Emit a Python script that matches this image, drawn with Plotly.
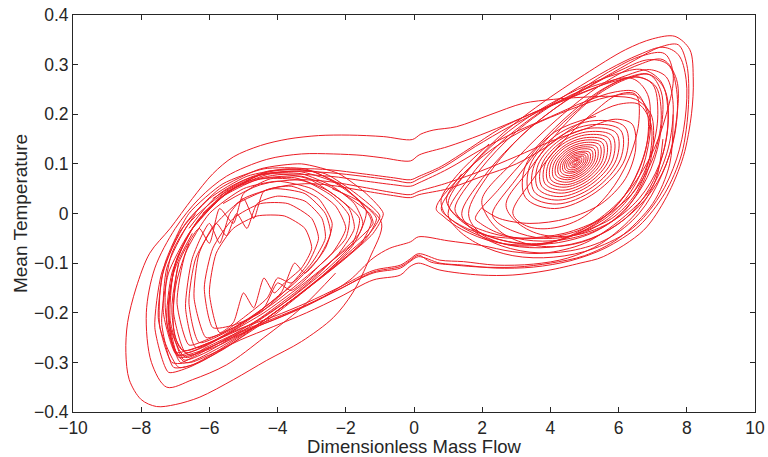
import plotly.graph_objects as go

# ---- data (Dimensionless Mass Flow, Mean Temperature) ----
# spiral leaving the right-hand focus (turns listed point by point)
spiral_x = [
    4.771, 4.771, 4.747, 4.713, 4.689, 4.689, 4.713, 4.747,
    4.812, 4.812, 4.764, 4.696, 4.648, 4.648, 4.696, 4.764,
    4.861, 4.861, 4.784, 4.676, 4.599, 4.599, 4.676, 4.784,
    4.910, 4.910, 4.805, 4.655, 4.550, 4.550, 4.655, 4.805,
    4.968, 4.968, 4.829, 4.631, 4.492, 4.492, 4.631, 4.829,
    5.025, 5.025, 4.852, 4.608, 4.435, 4.435, 4.608, 4.852,
    5.083, 5.083, 4.876, 4.584, 4.377, 4.377, 4.584, 4.876,
    5.148, 5.148, 4.903, 4.557, 4.312, 4.312, 4.557, 4.903,
    5.214, 5.214, 4.931, 4.529, 4.246, 4.246, 4.529, 4.931,
    5.288, 5.288, 4.961, 4.499, 4.172, 4.172, 4.499, 4.961,
    5.361, 5.361, 4.992, 4.468, 4.099, 4.099, 4.468, 4.992,
    5.443, 5.443, 5.026, 4.434, 4.017, 4.017, 4.434, 5.026,
    5.525, 5.525, 5.060, 4.400, 3.935, 3.935, 4.400, 5.060,
    5.616, 5.616, 5.097, 4.363, 3.844, 3.844, 4.363, 5.097,
    5.714, 5.714, 5.138, 4.322, 3.746, 3.746, 4.322, 5.138,
    5.821, 5.821, 5.182, 4.278, 3.639, 3.639, 4.278, 5.182,
    5.935, 5.935, 5.230, 4.230, 3.525, 3.525, 4.230, 5.230,
    6.058, 6.058, 5.281, 4.179, 3.402, 3.402, 4.179, 5.281,
    6.190, 6.190, 5.335, 4.125, 3.270, 3.270, 4.125, 5.335,
]
spiral_y = [
    0.105, 0.103, 0.101, 0.100, 0.101, 0.103, 0.105, 0.106,
    0.107, 0.103, 0.100, 0.098, 0.099, 0.103, 0.106, 0.108,
    0.109, 0.104, 0.098, 0.095, 0.097, 0.102, 0.108, 0.111,
    0.112, 0.104, 0.096, 0.092, 0.094, 0.102, 0.111, 0.114,
    0.115, 0.104, 0.093, 0.088, 0.091, 0.102, 0.113, 0.118,
    0.117, 0.104, 0.091, 0.084, 0.089, 0.102, 0.115, 0.122,
    0.120, 0.105, 0.088, 0.081, 0.086, 0.101, 0.118, 0.125,
    0.123, 0.105, 0.086, 0.076, 0.083, 0.101, 0.120, 0.130,
    0.127, 0.105, 0.083, 0.072, 0.079, 0.101, 0.123, 0.134,
    0.130, 0.106, 0.080, 0.068, 0.076, 0.100, 0.126, 0.138,
    0.134, 0.106, 0.077, 0.063, 0.072, 0.100, 0.129, 0.143,
    0.138, 0.107, 0.073, 0.058, 0.068, 0.100, 0.133, 0.148,
    0.142, 0.107, 0.070, 0.053, 0.064, 0.099, 0.136, 0.153,
    0.146, 0.107, 0.066, 0.047, 0.060, 0.099, 0.140, 0.159,
    0.151, 0.108, 0.062, 0.041, 0.055, 0.098, 0.144, 0.165,
    0.156, 0.108, 0.058, 0.034, 0.050, 0.098, 0.148, 0.172,
    0.162, 0.109, 0.053, 0.027, 0.044, 0.097, 0.153, 0.179,
    0.168, 0.110, 0.048, 0.019, 0.038, 0.097, 0.158, 0.187,
    0.174, 0.110, 0.043, 0.010, 0.032, 0.096, 0.164, 0.196,
]

# loops around the right-hand focus, [x, y] pairs
right_loops = [
    [[1.0,0.0],[1.6,0.07],[2.5,0.14],[3.5,0.195],[4.6,0.245],[5.7,0.29],[6.6,0.32],[7.3,0.335],[7.75,0.32],[7.98,0.27],[7.95,0.19],[7.7,0.11],[7.2,0.035],[6.4,-0.03],[5.3,-0.07],[4.1,-0.088],[2.9,-0.085],[1.9,-0.062],[1.25,-0.03],[1.0,0.0]],
    [[1.4,0.0],[2.0,0.07],[2.9,0.14],[3.9,0.2],[5.0,0.25],[6.1,0.29],[6.9,0.31],[7.45,0.3],[7.7,0.25],[7.65,0.16],[7.25,0.075],[6.6,0.0],[5.7,-0.05],[4.6,-0.075],[3.4,-0.078],[2.3,-0.058],[1.6,-0.025],[1.4,0.0]],
    [[0.8,0.01],[1.5,0.08],[2.5,0.15],[3.6,0.205],[4.8,0.25],[5.9,0.28],[6.7,0.29],[7.25,0.265],[7.45,0.2],[7.3,0.12],[6.9,0.05],[6.2,-0.01],[5.2,-0.05],[4.0,-0.068],[2.8,-0.064],[1.7,-0.038],[1.05,-0.01],[0.8,0.01]],
    [[1.8,-0.01],[2.5,0.05],[3.4,0.12],[4.4,0.19],[5.4,0.245],[6.3,0.275],[6.9,0.28],[7.25,0.245],[7.25,0.17],[6.95,0.09],[6.4,0.025],[5.6,-0.025],[4.6,-0.05],[3.5,-0.055],[2.5,-0.04],[1.95,-0.02],[1.8,-0.01]],
    [[2.3,0.0],[3.0,0.07],[3.9,0.15],[4.9,0.215],[5.8,0.26],[6.5,0.275],[7.0,0.26],[7.15,0.2],[6.95,0.12],[6.5,0.05],[5.8,-0.005],[4.9,-0.04],[3.8,-0.05],[2.9,-0.035],[2.4,-0.015],[2.3,0.0]],
    [[1.2,0.01],[1.9,0.085],[3.0,0.165],[4.3,0.228],[5.5,0.262],[6.4,0.272],[6.85,0.24],[6.9,0.17],[6.6,0.09],[6.0,0.02],[5.1,-0.03],[4.0,-0.058],[2.9,-0.058],[1.9,-0.038],[1.35,-0.01],[1.2,0.01]],
    [[2.7,0.02],[3.4,0.09],[4.3,0.17],[5.3,0.235],[6.2,0.27],[6.9,0.28],[7.35,0.25],[7.45,0.18],[7.2,0.1],[6.6,0.03],[5.7,-0.02],[4.6,-0.045],[3.6,-0.04],[2.9,-0.01],[2.7,0.02]],
    [[0.65,0.01],[1.3,0.07],[2.3,0.13],[3.4,0.175],[4.6,0.21],[5.7,0.235],[6.5,0.238],[6.9,0.2],[6.85,0.13],[6.5,0.06],[5.8,0.0],[4.8,-0.04],[3.6,-0.062],[2.4,-0.058],[1.4,-0.032],[0.85,-0.005],[0.65,0.01]],
    [[2.0,0.03],[3.0,0.11],[4.2,0.19],[5.5,0.26],[6.6,0.3],[7.3,0.31],[7.7,0.27],[7.7,0.19],[7.4,0.1],[6.8,0.03],[5.9,-0.025],[4.8,-0.06],[3.6,-0.065],[2.6,-0.04],[2.1,0.0],[2.0,0.03]],
    [[2.9,0.0],[3.5,0.07],[4.3,0.14],[5.2,0.2],[6.0,0.24],[6.5,0.24],[6.6,0.19],[6.3,0.11],[5.7,0.04],[4.9,-0.01],[4.0,-0.03],[3.3,-0.025],[2.9,0.0]],
    [[1.6,0.0],[2.2,0.08],[3.2,0.16],[4.4,0.225],[5.7,0.285],[6.7,0.318],[7.35,0.322],[7.6,0.28],[7.4,0.2],[6.9,0.11],[6.1,0.03],[5.0,-0.03],[3.8,-0.062],[2.7,-0.062],[1.9,-0.037],[1.6,0.0]],
]

# loops around the left-hand focus, [x, y] pairs
left_loops = [
    [[-6.96,-0.285],[-7.35,-0.2],[-7.25,-0.11],[-6.6,-0.02],[-5.6,0.04],[-4.5,0.07],[-3.3,0.075],[-2.2,0.045],[-1.3,0.0],[-1.2,-0.02],[-1.6,-0.05],[-2.4,-0.095],[-3.4,-0.15],[-4.4,-0.2],[-5.4,-0.24],[-6.4,-0.275],[-6.96,-0.285]],
    [[-6.9,-0.31],[-7.45,-0.23],[-7.4,-0.13],[-6.9,-0.04],[-6.0,0.03],[-4.9,0.075],[-3.7,0.09],[-2.6,0.08],[-1.7,0.04],[-1.0,-0.005],[-1.3,-0.04],[-2.1,-0.09],[-3.1,-0.15],[-4.2,-0.21],[-5.3,-0.26],[-6.3,-0.3],[-6.9,-0.31]],
    [[-7.0,-0.28],[-7.2,-0.19],[-6.95,-0.09],[-6.3,-0.01],[-5.3,0.05],[-4.2,0.08],[-3.1,0.07],[-2.2,0.03],[-1.6,-0.01],[-1.8,-0.06],[-2.6,-0.115],[-3.6,-0.17],[-4.7,-0.22],[-5.8,-0.255],[-6.6,-0.275],[-7.0,-0.28]],
    [[-6.6,-0.265],[-6.95,-0.18],[-6.7,-0.08],[-6.0,0.0],[-5.0,0.05],[-4.0,0.065],[-3.0,0.05],[-2.3,0.015],[-2.0,-0.03],[-2.4,-0.08],[-3.2,-0.13],[-4.2,-0.185],[-5.3,-0.23],[-6.1,-0.255],[-6.6,-0.265]],
    [[-7.1,-0.3],[-7.5,-0.21],[-7.3,-0.1],[-6.6,0.0],[-5.6,0.06],[-4.4,0.09],[-3.2,0.09],[-2.2,0.06],[-1.5,0.02],[-1.1,-0.01],[-1.4,-0.05],[-2.2,-0.1],[-3.3,-0.16],[-4.5,-0.22],[-5.7,-0.27],[-6.6,-0.3],[-7.1,-0.3]],
    [[-6.1,-0.25],[-6.45,-0.17],[-6.3,-0.08],[-5.8,-0.02],[-5.5,-0.045],[-5.2,0.0],[-4.9,-0.03],[-4.6,0.02],[-4.0,0.035],[-3.2,0.025],[-2.7,-0.01],[-2.6,-0.05],[-3.0,-0.1],[-3.6,-0.14],[-4.0,-0.13],[-4.3,-0.17],[-5.0,-0.21],[-5.6,-0.24],[-6.1,-0.25]],
    [[-6.4,-0.27],[-6.7,-0.19],[-6.5,-0.09],[-6.0,-0.02],[-5.7,-0.06],[-5.4,0.0],[-5.0,0.03],[-4.7,-0.01],[-4.4,0.045],[-3.6,0.055],[-2.8,0.03],[-2.4,-0.02],[-2.6,-0.07],[-3.2,-0.12],[-3.5,-0.1],[-3.9,-0.16],[-4.8,-0.21],[-5.7,-0.25],[-6.4,-0.27]],
    [[-5.9,-0.23],[-6.15,-0.15],[-5.9,-0.07],[-5.3,-0.01],[-4.5,0.02],[-3.7,0.02],[-3.0,-0.01],[-2.8,-0.05],[-3.1,-0.1],[-3.7,-0.15],[-4.5,-0.2],[-5.3,-0.225],[-5.9,-0.23]],
    [[-6.7,-0.28],[-7.05,-0.2],[-6.9,-0.1],[-6.3,-0.03],[-6.0,-0.06],[-5.7,0.01],[-5.3,-0.02],[-5.0,0.04],[-4.2,0.07],[-3.2,0.065],[-2.4,0.035],[-1.9,-0.005],[-2.0,-0.05],[-2.7,-0.1],[-3.6,-0.155],[-4.0,-0.14],[-4.4,-0.19],[-5.4,-0.24],[-6.2,-0.27],[-6.7,-0.28]],
    [[-6.85,-0.3],[-7.25,-0.22],[-7.1,-0.12],[-6.5,-0.03],[-5.5,0.04],[-4.3,0.085],[-3.0,0.085],[-2.0,0.05],[-1.4,0.005],[-1.6,-0.04],[-2.4,-0.095],[-3.5,-0.16],[-4.6,-0.215],[-5.7,-0.26],[-6.5,-0.29],[-6.85,-0.3]],
    [[-5.7,-0.24],[-6.0,-0.16],[-5.8,-0.08],[-5.3,-0.03],[-4.6,-0.005],[-3.8,-0.005],[-3.2,-0.03],[-3.0,-0.07],[-3.3,-0.11],[-3.8,-0.14],[-4.1,-0.16],[-4.4,-0.13],[-4.7,-0.19],[-5.0,-0.16],[-5.3,-0.22],[-5.7,-0.24]],
    [[-6.9,-0.29],[-7.2,-0.2],[-7.0,-0.1],[-6.4,-0.02],[-5.5,0.045],[-4.4,0.08],[-3.3,0.08],[-2.4,0.055],[-1.75,0.02],[-1.5,-0.02],[-1.8,-0.065],[-2.6,-0.12],[-3.6,-0.175],[-4.6,-0.225],[-5.7,-0.265],[-6.5,-0.285],[-6.9,-0.29]],
    [[-7.2,-0.32],[-7.6,-0.23],[-7.4,-0.12],[-6.7,-0.02],[-5.7,0.05],[-4.5,0.09],[-3.3,0.1],[-2.2,0.08],[-1.4,0.04],[-0.9,0.0],[-1.2,-0.04],[-2.0,-0.09],[-3.1,-0.15],[-4.3,-0.21],[-5.5,-0.27],[-6.6,-0.31],[-7.2,-0.32]],
    [[-6.75,-0.295],[-7.15,-0.215],[-7.05,-0.115],[-6.55,-0.035],[-5.7,0.03],[-4.6,0.068],[-3.5,0.072],[-2.5,0.045],[-1.9,0.01],[-1.75,-0.03],[-2.2,-0.08],[-3.0,-0.135],[-4.0,-0.19],[-5.1,-0.24],[-6.1,-0.28],[-6.75,-0.295]],
    [[-6.3,-0.26],[-6.6,-0.18],[-6.4,-0.09],[-5.8,-0.02],[-5.0,0.03],[-4.1,0.05],[-3.2,0.04],[-2.6,0.0],[-2.45,-0.04],[-2.8,-0.09],[-3.5,-0.14],[-4.4,-0.19],[-5.4,-0.235],[-6.3,-0.26]],
    [[-7.05,-0.31],[-7.4,-0.22],[-7.2,-0.12],[-6.6,-0.04],[-5.6,0.035],[-4.5,0.078],[-3.4,0.085],[-2.4,0.065],[-1.6,0.025],[-1.25,-0.015],[-1.55,-0.06],[-2.4,-0.11],[-3.4,-0.165],[-4.5,-0.22],[-5.6,-0.27],[-6.5,-0.305],[-7.05,-0.31]],
]

# passages between the two lobes, [x, y] pairs
transits = [
    [[-2.4,0.05],[-1.5,0.02],[-0.95,-0.02],[-1.3,-0.09],[-1.8,-0.16],[-2.37,-0.21],[-3.3,-0.258],[-4.32,-0.296],[-5.3,-0.335],[-6.28,-0.37],[-7.0,-0.385],[-7.55,-0.389],[-8.0,-0.375],[-8.35,-0.335],[-8.45,-0.28],[-8.4,-0.22],[-8.15,-0.15],[-7.75,-0.08],[-7.15,-0.03],[-6.5,0.03],[-5.9,0.08],[-5.3,0.114],[-4.5,0.137],[-3.7,0.15],[-2.8,0.157],[-1.9,0.158],[-0.9,0.155],[-0.05,0.149],[0.2,0.16],[0.56,0.168],[1.25,0.175],[2.23,0.199],[3.2,0.222],[4.09,0.23],[4.87,0.234],[5.84,0.236],[6.5,0.23],[6.95,0.2],[7.0,0.13],[6.7,0.06],[6.1,0.0],[5.2,-0.04],[4.1,-0.06],[3.0,-0.06],[2.0,-0.04],[1.3,-0.01],[1.0,0.02],[1.5,0.08],[2.5,0.155],[3.7,0.22],[5.0,0.28],[6.2,0.33],[7.0,0.352],[7.65,0.357],[8.09,0.33],[8.19,0.269],[8.14,0.202],[7.9,0.115],[7.41,0.034],[6.73,-0.034],[5.55,-0.087],[4.87,-0.1],[3.9,-0.115],[2.9,-0.124],[1.94,-0.124],[0.76,-0.114],[0.13,-0.1],[-0.12,-0.107],[-0.4,-0.124],[-1.2,-0.134],[-2.17,-0.168],[-3.15,-0.2],[-4.13,-0.228],[-5.1,-0.255],[-6.0,-0.285],[-6.7,-0.3],[-7.1,-0.26],[-7.3,-0.18],[-7.1,-0.08],[-6.4,0.0]],
    [[-2.3,-0.12],[-3.3,-0.19],[-4.4,-0.25],[-5.5,-0.305],[-6.5,-0.335],[-7.25,-0.35],[-7.7,-0.3],[-7.85,-0.2],[-7.6,-0.11],[-7.0,-0.03],[-6.3,0.03],[-5.5,0.075],[-4.32,0.109],[-3.3,0.12],[-2.37,0.12],[-1.5,0.117],[-0.9,0.112],[-0.1,0.106],[0.15,0.118],[1.0,0.135],[1.94,0.158],[2.9,0.185],[3.8,0.212],[4.7,0.24],[5.6,0.275],[6.5,0.31],[7.2,0.335],[7.75,0.34],[8.0,0.3],[8.05,0.22],[7.85,0.12],[7.35,0.04],[6.6,-0.025],[5.6,-0.07],[4.6,-0.095],[3.5,-0.108],[2.4,-0.11],[1.45,-0.104],[0.76,-0.1],[0.13,-0.087],[-0.12,-0.097],[-0.4,-0.11],[-1.2,-0.12],[-2.17,-0.152],[-3.15,-0.186],[-4.13,-0.215],[-5.1,-0.24],[-6.0,-0.27],[-6.6,-0.285],[-7.0,-0.25],[-7.0,-0.15],[-6.6,-0.06]],
    [[-6.6,-0.03],[-5.7,0.04],[-4.5,0.08],[-3.4,0.09],[-2.46,0.088],[-1.5,0.08],[-0.6,0.072],[-0.1,0.068],[0.15,0.075],[0.8,0.095],[1.65,0.132],[2.5,0.17],[3.4,0.2],[4.3,0.225],[5.2,0.25],[6.1,0.275],[6.9,0.29],[7.4,0.275],[7.6,0.22],[7.45,0.13],[6.95,0.05],[6.1,-0.01],[5.0,-0.06],[3.8,-0.08],[2.9,-0.077],[1.94,-0.064],[1.0,-0.055],[0.13,-0.047],[-0.1,-0.057],[-0.71,-0.07],[-1.2,-0.09],[-1.88,-0.134],[-2.66,-0.168],[-3.64,-0.2],[-4.6,-0.228],[-5.5,-0.255],[-6.4,-0.28],[-6.9,-0.285],[-7.2,-0.22],[-7.05,-0.12],[-6.5,-0.04]],
    [[-5.9,0.03],[-4.8,0.072],[-3.6,0.085],[-2.46,0.082],[-1.5,0.075],[-0.6,0.067],[-0.1,0.062],[0.15,0.07],[0.9,0.095],[1.8,0.135],[2.8,0.175],[3.8,0.21],[4.8,0.24],[5.8,0.265],[6.6,0.275],[7.1,0.255],[7.25,0.19],[7.0,0.11],[6.4,0.04],[5.5,-0.01],[4.4,-0.04],[3.2,-0.05],[2.2,-0.045],[1.4,-0.025],[0.9,0.0],[0.8,0.03],[1.3,0.08],[2.2,0.14]],
    [[-6.2,0.0],[-5.2,0.055],[-4.0,0.078],[-2.46,0.075],[-1.5,0.066],[-0.6,0.058],[-0.1,0.055],[0.15,0.062],[1.0,0.09],[2.0,0.13],[3.0,0.165],[4.0,0.195],[5.0,0.225],[5.9,0.245],[6.5,0.245],[6.85,0.2],[6.8,0.13],[6.4,0.06],[5.7,0.0],[4.8,-0.035],[3.7,-0.05],[2.6,-0.045],[1.7,-0.025],[1.1,0.005],[0.95,0.03],[1.4,0.08]],
    [[-5.6,0.02],[-4.5,0.058],[-3.4,0.068],[-2.46,0.064],[-1.5,0.053],[-0.6,0.042],[-0.1,0.038],[0.15,0.045],[0.9,0.06],[1.94,0.085],[3.0,0.115],[4.0,0.145],[5.0,0.17],[5.9,0.19],[6.4,0.18],[6.5,0.13],[6.2,0.07],[5.5,0.02],[4.5,-0.01],[3.4,-0.02],[2.5,-0.01],[2.0,0.01]],
    [[-5.2,0.02],[-4.2,0.05],[-3.2,0.06],[-2.46,0.057],[-1.5,0.046],[-0.6,0.036],[-0.1,0.032],[0.15,0.038],[1.0,0.05],[2.0,0.075],[3.0,0.1],[3.9,0.135],[4.6,0.17],[5.3,0.2],[6.0,0.22],[6.6,0.22],[6.95,0.18],[6.9,0.11],[6.5,0.04],[5.8,-0.01],[4.8,-0.04]],
    [[7.3,0.15],[7.1,0.07],[6.5,0.0],[5.5,-0.06],[4.5,-0.09],[3.5,-0.102],[2.4,-0.104],[1.45,-0.097],[0.76,-0.094],[0.13,-0.081],[-0.12,-0.092],[-0.4,-0.104],[-1.2,-0.115],[-2.17,-0.148],[-3.15,-0.18],[-4.13,-0.208],[-5.1,-0.232],[-6.0,-0.26],[-6.8,-0.275],[-7.1,-0.2],[-6.9,-0.1]],
    [[7.6,0.2],[7.5,0.1],[7.0,0.02],[6.0,-0.05],[5.0,-0.085],[4.0,-0.1],[3.0,-0.108],[2.0,-0.108],[1.2,-0.104],[0.5,-0.098],[0.13,-0.084],[-0.12,-0.095],[-0.4,-0.107],[-1.2,-0.118],[-2.17,-0.152],[-3.15,-0.184],[-4.13,-0.212],[-5.1,-0.238],[-6.1,-0.27],[-6.7,-0.29],[-7.15,-0.23]],
]

x_ticks = [-10, -8, -6, -4, -2, 0, 2, 4, 6, 8, 10]
y_ticks = [-0.4, -0.3, -0.2, -0.1, 0, 0.1, 0.2, 0.3, 0.4]
y_tick_text = ["\u22120.4", "\u22120.3", "\u22120.2", "\u22120.1", "0", "0.1", "0.2", "0.3", "0.4"]

LINE_RED = "rgb(236,28,36)"
INK = "#262626"
FONT = "Liberation Sans, Arial, Helvetica, sans-serif"


def join(paths):
    xs, ys = [], []
    for p in paths:
        xs.extend(pt[0] for pt in p)
        ys.extend(pt[1] for pt in p)
        xs.append(None)
        ys.append(None)
    return xs, ys


fig = go.Figure()

fig.add_trace(go.Scatter(x=spiral_x, y=spiral_y, mode="lines",
                         line=dict(color=LINE_RED, width=1, shape="spline", smoothing=1.0),
                         hoverinfo="skip", showlegend=False))
for group, smooth in ((right_loops, 1.0), (left_loops, 0.6), (transits, 0.9)):
    gx, gy = join(group)
    fig.add_trace(go.Scatter(x=gx, y=gy, mode="lines",
                             line=dict(color=LINE_RED, width=1, shape="spline", smoothing=smooth),
                             connectgaps=False, hoverinfo="skip", showlegend=False))

axis_common = dict(
    showline=True, linecolor=INK, linewidth=1, mirror="ticks",
    ticks="inside", ticklen=5, tickcolor=INK, tickwidth=1,
    showgrid=False, zeroline=False, automargin=False,
    tickfont=dict(family=FONT, size=17.5, color=INK),
)

fig.update_layout(
    width=768, height=457,
    margin=dict(l=73, r=13, t=15, b=45),
    paper_bgcolor="white", plot_bgcolor="white",
    font=dict(family=FONT, color=INK),
    xaxis=dict(range=[-10, 10], tickvals=x_ticks,
               title=dict(text="Dimensionless Mass Flow", font=dict(family=FONT, size=18.5, color=INK), standoff=3),
               **axis_common),
    yaxis=dict(range=[-0.4, 0.4], tickvals=y_ticks, ticktext=y_tick_text,
               title=dict(text="Mean Temperature", font=dict(family=FONT, size=19, color=INK), standoff=1),
               **axis_common),
)

# remove the page's default body margin so the figure sits at the window's corner
fig.write_html("out.html", config={"displayModeBar": False},
               post_script="document.body.style.margin='0';document.body.style.overflow='hidden';")
